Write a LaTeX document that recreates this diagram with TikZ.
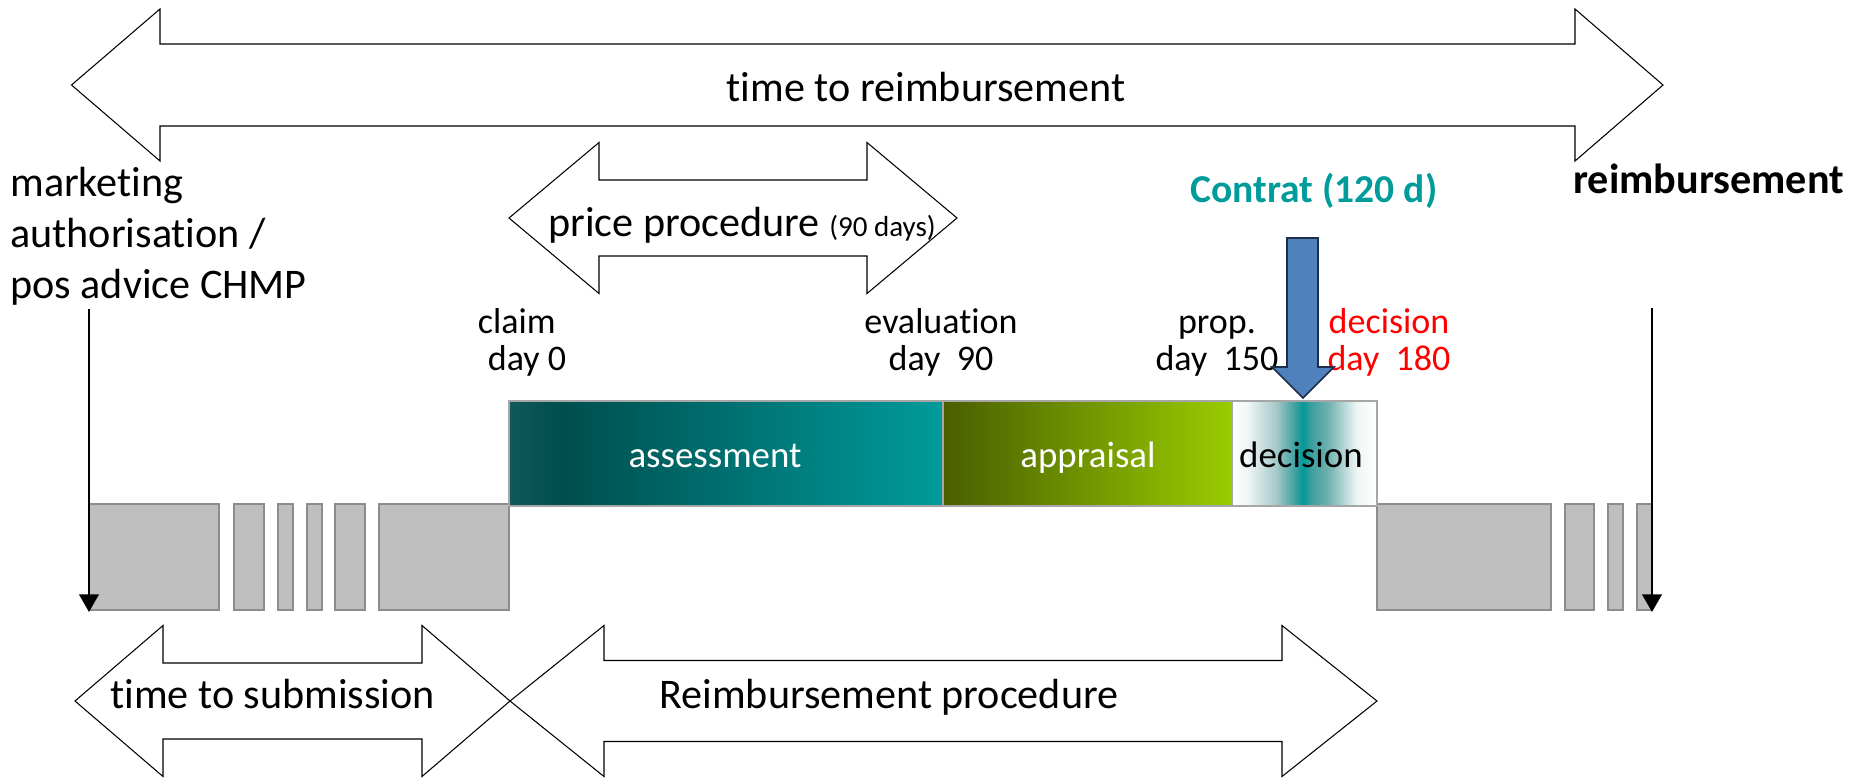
\documentclass[tikz,border=0pt]{standalone}
\usepackage{fontspec}
\setmainfont[Ligatures=NoCommon]{Carlito}
\usetikzlibrary{arrows.meta,calc}
\definecolor{tealdark}{HTML}{004E4E}
\definecolor{tealedge}{HTML}{0F5959}
\definecolor{tealmain}{HTML}{009B9B}
\definecolor{olivedark}{HTML}{4A5E00}
\definecolor{applegreen}{HTML}{99CC00}
\definecolor{boxgray}{HTML}{BFBFBF}
\definecolor{boxedge}{HTML}{8C8C8C}
\definecolor{baredge}{HTML}{A6A6A6}
\definecolor{contractblue}{HTML}{4F81BD}
\definecolor{contractedge}{HTML}{1E2E48}
\definecolor{dec1}{HTML}{F2F7F7}
\definecolor{dec2}{HTML}{A8C9C9}
\definecolor{dec3}{HTML}{3A9E9E}
\definecolor{dec4}{HTML}{009999}
\definecolor{dec5}{HTML}{6FB0B0}
\definecolor{dec6}{HTML}{EEF5F5}
\pgfdeclarehorizontalshading{assessshade}{100bp}{color(0bp)=(tealedge); color(25bp)=(tealedge); color(31bp)=(tealdark); color(75bp)=(tealmain); color(100bp)=(tealmain)}
\pgfdeclarehorizontalshading{decshade}{100bp}{color(0bp)=(white); color(25bp)=(white); color(30bp)=(dec1); color(40bp)=(dec2); color(47bp)=(dec3); color(49.5bp)=(dec4); color(52bp)=(dec3); color(58bp)=(dec5); color(68bp)=(dec6); color(75bp)=(white); color(100bp)=(white)}
% block arrow: left tip, left base, right base, right tip, mid y, half shaft, half head
\newcommand{\blockarrow}[7]{%
  \draw[blockarr] (#1,#5) -- (#2,#5-#7) -- (#2,#5-#6) -- (#3,#5-#6) -- (#3,#5-#7) -- (#4,#5)
    -- (#3,#5+#7) -- (#3,#5+#6) -- (#2,#5+#6) -- (#2,#5+#7) -- cycle;}

\begin{document}
\begin{tikzpicture}[
    x=0.02cm, y=-0.02cm,
    lbl/.style={font=\fontsize{24}{29}\selectfont, inner sep=0pt},
    daylbl/.style={font=\fontsize{20.5}{20.5}\selectfont, inner sep=0pt, anchor=base},
    bartxt/.style={font=\fontsize{21}{25}\selectfont, inner sep=0pt, anchor=base},
    blockarr/.style={draw=black, fill=white, line width=0.6pt},
    graybox/.style={draw=boxedge, fill=boxgray, line width=0.6pt},
    bar/.style={draw=baredge, line width=0.6pt},
    milestone/.style={-{Triangle[width=11pt,length=10pt]}, line width=1.6pt}
]
    \useasboundingbox (0,0) rectangle (1862,778);

    % Time arrows
    \blockarrow{71.5}{160}{1575}{1663}{85}{41}{76}
    \blockarrow{509}{599}{867}{957}{218}{38}{75.5}
    \blockarrow{75}{163}{422}{510}{701}{38}{75.5}
    \blockarrow{510}{604}{1282}{1377}{701}{40.5}{75.5}
    \node[lbl, anchor=base] (reimb) at (926,101) {time to reimbursement};
    \node[lbl, anchor=base west] (price) at (548,236) {price procedure {\fontsize{16.5}{19}\selectfont(90 days)}};
    \node[lbl, anchor=base west] (submit) at (110,708) {time to submission};
    \node[lbl, anchor=base west] (proc) at (659,708) {Reimbursement procedure};

    % Gray periods
    \foreach \a/\b in {89/219, 234/264, 278/293, 307/322, 335/365, 379/509,
                       1377/1551, 1565/1594, 1608/1623, 1637/1652}
        \draw[graybox] (\a,504) rectangle (\b,610);

    % Procedure bar
    \draw[bar, shading=assessshade] (509,401) rectangle (943,506);
    \draw[bar, left color=olivedark, right color=applegreen] (943,401) rectangle (1232,506);
    \draw[bar, shading=decshade] (1232,401) rectangle (1377,506);
    \node[bartxt, text=white] (assess) at (715,467) {assessment};
    \node[bartxt, text=white] (apprais) at (1088,467) {appraisal};
    \node[bartxt] (decide) at (1301,467) {decision};

    % Milestones
    \node[daylbl, align=left] (claim) at (522,370) {claim\\\hspace*{0.28em}day 0};
    \node[daylbl, align=center] (eval) at (941,370) {evaluation\\day\ \ 90};
    \node[daylbl, align=center] (prop) at (1217,370) {prop.\\day\ \ 150};
    \node[daylbl, align=center, text=red] (decday) at (1389,370) {decision\\day\ \ 180};

    % Start and end
    \node[lbl, anchor=base west, align=left] (auth) at (10,298) {marketing\\authorisation /\\pos advice CHMP};
    \node[lbl, anchor=base west, font=\fontsize{24}{29}\selectfont\bfseries] (paid) at (1573,193) {reimbursement};
    \coordinate (authTop) at (89,309);
    \coordinate (authEnd) at (89,612);
    \coordinate (paidTop) at (1652,308);
    \coordinate (paidEnd) at (1652,612);
    \draw[milestone] (authTop) -- (authEnd);
    \draw[milestone] (paidTop) -- (paidEnd);

    % Contract
    \node[lbl, anchor=base, font=\fontsize{22.5}{27}\selectfont\bfseries, text=tealmain] (contract) at (1314,202) {Contrat (120 d)};
    \draw[fill=contractblue, draw=contractedge, line width=0.9pt]
        (1287,238) -- (1318,238) -- (1318,367) -- (1334,367) -- (1303,398)
        -- (1272,367) -- (1287,367) -- cycle;
\end{tikzpicture}
\end{document}
